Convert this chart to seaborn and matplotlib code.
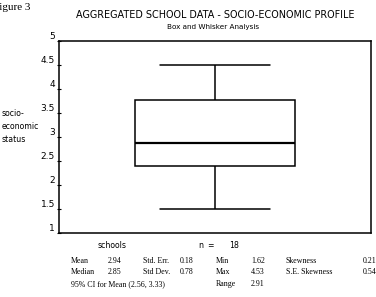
import numpy as np
import pandas as pd
import matplotlib
matplotlib.use("Agg")
import matplotlib.pyplot as plt
import seaborn as sns

# five-number summary read from the drawn box (min, Q1, median, Q3, max)
summary = [1.50, 2.40, 2.875, 3.77, 4.51]
y_ticks = [1, 1.5, 2, 2.5, 3, 3.5, 4, 4.5, 5]
y_tick_labels = ["1", "1.5", "2", "2.5", "3", "3.5", "4", "4.5", "5"]

title = "AGGREGATED SCHOOL DATA - SOCIO-ECONOMIC PROFILE"
subtitle = "Box and Whisker Analysis"
ylabel = "socio-\neconomic\nstatus"
group_label = "schools"
n_value = "18"
stat_rows = [
    ["Mean", "2.94", "Std. Err.", "0.18", "Min", "1.62", "Skewness", "0.21"],
    ["Median", "2.85", "Std Dev.", "0.78", "Max", "4.53", "S.E. Skewness", "0.54"],
]
ci_text = "95% CI for Mean (2.56, 3.33)"
range_row = ["Range", "2.91"]

sns.set_style("white")
plt.rcParams["font.family"] = ["DejaVu Sans"]
plt.rcParams["text.color"] = "black"
plt.rcParams["ytick.color"] = "black"
plt.rcParams["ytick.labelcolor"] = "black"

W, H = 376, 297
fig = plt.figure(figsize=(W / 100, H / 100), dpi=100)
ax = fig.add_axes([59 / W, 1 - 233 / H, (371 - 59) / W, (233 - 41) / H])

df = pd.DataFrame({"status": summary})
sns.boxplot(data=df, y="status", whis=(0, 100), width=0.51, color="white",
            linecolor="black", linewidth=1.1, capwidths=0.35,
            medianprops=dict(color="black", linewidth=1.6), ax=ax)
ax.set_xlim(-0.5, 0.5)
ax.set_ylim(1, 5)
ax.set_xticks([])
ax.set_xlabel("")
ax.set_ylabel("")
ax.set_yticks(y_ticks)
ax.set_yticklabels(y_tick_labels, fontsize=6.5, va="bottom", color="black")
ax.tick_params(axis="y", direction="inout", length=3, width=0.8, pad=1.5, left=True)
for s in ax.spines.values():
    s.set_visible(True)
    s.set_color("black")
    s.set_linewidth(1.1)

def fx(px):
    return px / W

def fy(py):
    return 1 - py / H

fig.text(fx(-7), fy(7), "Figure 3", family="Liberation Serif", fontsize=8, va="center", ha="left")
fig.text(fx(215), fy(15), title, fontsize=6.9, ha="center", va="center")
fig.text(fx(213), fy(27), subtitle, fontsize=5.2, ha="center", va="center")
fig.text(fx(2), fy(109), ylabel, fontsize=5.6, ha="left", va="top", linespacing=1.55)

fig.text(fx(98), fy(246), group_label, fontsize=5.6, ha="left", va="center")
fig.text(fx(198), fy(246), "n", fontsize=5.6, ha="left", va="center")
fig.text(fx(207), fy(246), "=", fontsize=5.6, ha="left", va="center")
fig.text(fx(229), fy(246), n_value, fontsize=5.6, ha="left", va="center")

col_x = [71, 108, 143, 180, 216, 251, 286, 363]
row_y = [261, 272.5]
for r, row in enumerate(stat_rows):
    for c, txt in enumerate(row):
        fig.text(fx(col_x[c]), fy(row_y[r]), txt, family="Liberation Serif",
                 fontsize=5.7, ha="left", va="center")
fig.text(fx(71), fy(284), ci_text, family="Liberation Serif", fontsize=5.7, ha="left", va="center")
fig.text(fx(216), fy(284), range_row[0], family="Liberation Serif", fontsize=5.7, ha="left", va="center")
fig.text(fx(251), fy(284), range_row[1], family="Liberation Serif", fontsize=5.7, ha="left", va="center")

fig.savefig("out.png", dpi=100)
